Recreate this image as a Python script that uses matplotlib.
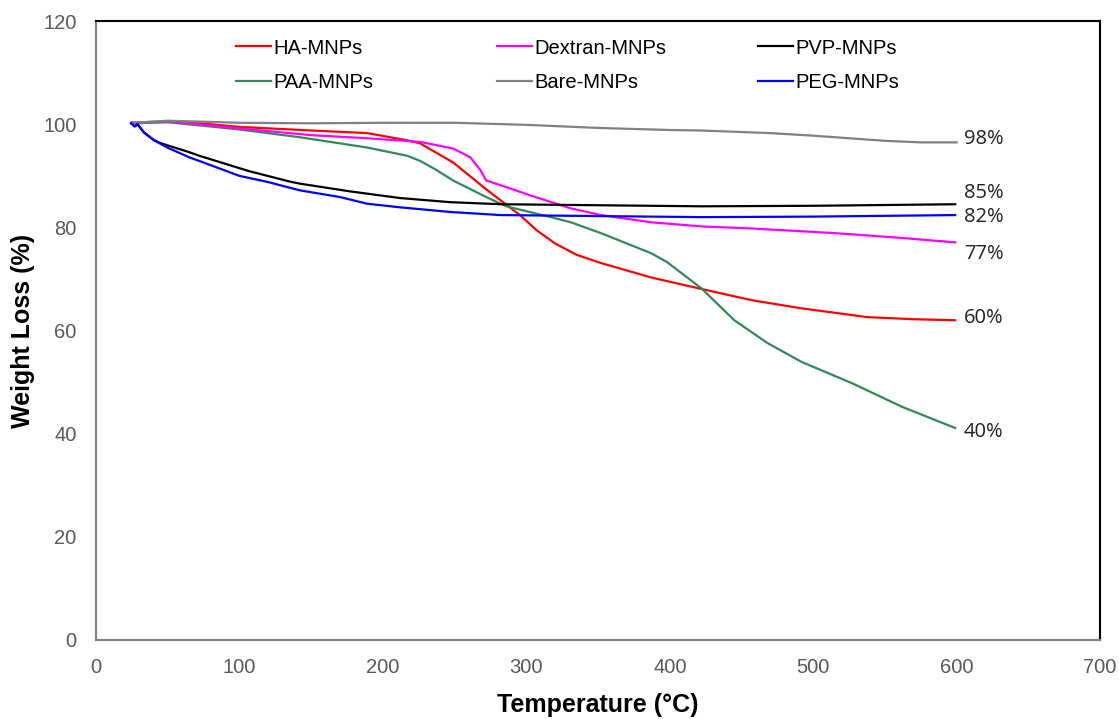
import matplotlib
matplotlib.use("Agg")
import matplotlib.pyplot as plt
from matplotlib.legend import Legend

# TGA curves (temperature in °C, weight in %)
ha_t = [25, 50, 72, 100, 150, 189, 217, 226, 249, 272, 296, 307, 320, 335, 352, 387, 420, 457, 492, 538, 570, 599]
ha_w = [100.3, 100.5, 100.2, 99.5, 98.8, 98.3, 96.9, 96.3, 92.6, 87.4, 82.3, 79.5, 76.9, 74.7, 73.1, 70.3, 68.2, 65.9, 64.3, 62.6, 62.2, 62.0]

dex_t = [25, 50, 100, 150, 189, 226, 249, 261, 268, 272, 282, 303, 331, 352, 387, 422, 457, 515, 560, 599]
dex_w = [100.3, 100.6, 99.2, 97.9, 97.3, 96.6, 95.3, 93.6, 91.1, 89.1, 88.2, 86.2, 83.7, 82.4, 81.0, 80.2, 79.8, 78.9, 78.0, 77.1]

pvp_t = [24.5, 27, 29, 33.5, 40.5, 45.5, 65, 72, 100, 107, 135, 142, 177, 212, 247, 282, 352, 422, 500, 599]
pvp_w = [100.2, 99.6, 100.0, 98.4, 96.9, 96.3, 94.6, 93.9, 91.5, 90.9, 88.9, 88.5, 87.0, 85.7, 84.9, 84.5, 84.3, 84.1, 84.2, 84.5]

paa_t = [25, 50, 72, 100, 142, 189, 217, 226, 237, 249, 272, 286, 317, 331, 352, 387, 398, 422, 445, 468, 492, 527, 562, 599]
paa_w = [100.2, 100.4, 99.8, 99.0, 97.5, 95.5, 93.9, 92.9, 91.2, 89.1, 85.9, 84.1, 82.0, 81.0, 78.9, 75.0, 73.3, 68.2, 62.0, 57.6, 53.9, 49.8, 45.2, 41.1]

bare_t = [25, 50, 100, 150, 200, 250, 300, 350, 400, 422, 470, 500, 530, 550, 575, 600]
bare_w = [100.3, 100.7, 100.3, 100.2, 100.3, 100.3, 99.9, 99.3, 98.9, 98.8, 98.3, 97.8, 97.2, 96.8, 96.5, 96.5]

peg_t = [24.5, 27, 29, 33.5, 40.5, 49.7, 65, 72, 100, 120, 142, 170, 189, 212, 247, 282, 352, 422, 500, 599]
peg_w = [100.2, 99.6, 100.0, 98.4, 96.9, 95.5, 93.6, 92.9, 90.0, 88.8, 87.2, 85.9, 84.6, 83.9, 83.0, 82.4, 82.2, 82.0, 82.1, 82.4]

end_labels = ["98%", "85%", "82%", "77%", "60%", "40%"]
end_label_y = [97.1, 86.6, 82.0, 74.8, 62.4, 40.3]

series = {
    "HA-MNPs": (ha_t, ha_w, "#ff0000"),
    "PAA-MNPs": (paa_t, paa_w, "#2e8b57"),
    "Dextran-MNPs": (dex_t, dex_w, "#ff00ff"),
    "Bare-MNPs": (bare_t, bare_w, "#808080"),
    "PVP-MNPs": (pvp_t, pvp_w, "#000000"),
    "PEG-MNPs": (peg_t, peg_w, "#0000ff"),
}
legend_cols = [["HA-MNPs", "PAA-MNPs"], ["Dextran-MNPs", "Bare-MNPs"], ["PVP-MNPs", "PEG-MNPs"]]

plt.rcParams["font.family"] = ["Liberation Sans", "DejaVu Sans"]

fig = plt.figure(figsize=(11.19, 7.19), dpi=100)
ax = fig.add_axes([0.0858, 0.110, 0.8973, 0.8605])

lines = {}
for name, (t, w, c) in series.items():
    lines[name], = ax.plot(t, w, color=c, linewidth=1.6, label=name)

for txt, y in zip(end_labels, end_label_y):
    ax.text(605, y, txt, fontsize=14.5, family=["Open Sans", "DejaVu Sans"],
            va="center", ha="left", color="#222222")

ax.set_xlim(0, 700)
ax.set_ylim(0, 120)
ax.set_xticks(range(0, 701, 100))
ax.set_yticks(range(0, 121, 20))
ax.tick_params(length=0, labelsize=14.5, labelcolor="#595959")
ax.tick_params(axis="x", pad=13)
ax.tick_params(axis="y", pad=14)

for side in ["left", "bottom"]:
    ax.spines[side].set_color("#7f7f7f")
    ax.spines[side].set_linewidth(1.5)
for side in ["top", "right"]:
    ax.spines[side].set_color("#000000")
    ax.spines[side].set_linewidth(1.5)

ax.set_xlabel("Temperature (°C)", fontsize=18, fontweight="bold")
ax.set_ylabel("Weight Loss (%)", fontsize=18, fontweight="bold")
ax.xaxis.set_label_coords(0.5, -0.086)
ax.yaxis.set_label_coords(-0.061, 0.5)

# three separate legend columns, like the Excel layout
col_x = [0.1394, 0.399, 0.659]
for x, names in zip(col_x, legend_cols):
    leg = Legend(ax, [lines[n] for n in names], names, loc="upper left",
                 bbox_to_anchor=(x, 0.972), frameon=False, borderpad=0,
                 borderaxespad=0, handlelength=1.75, handletextpad=0.12,
                 labelspacing=0.75, prop={"size": 14.5})
    ax.add_artist(leg)

fig.savefig("out.png", dpi=100)
